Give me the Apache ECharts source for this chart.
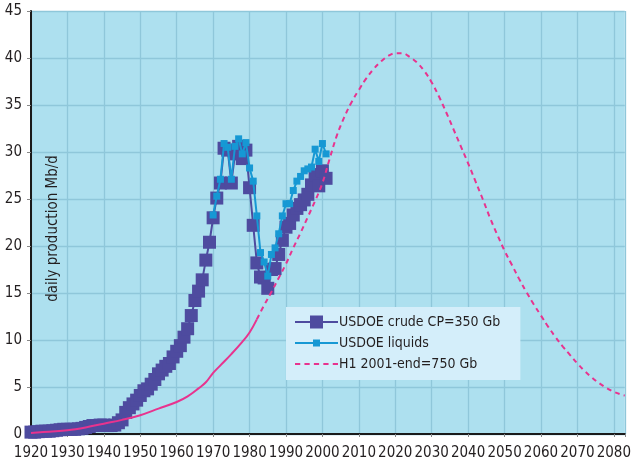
<!DOCTYPE html>
<html>
<head>
<meta charset="utf-8">
<script src="https://cdn.jsdelivr.net/npm/echarts@6/dist/echarts.min.js"></script>
<style>
html,body{margin:0;padding:0;background:#fff;}
#c{width:634px;height:465px;}
</style>
</head>
<body>
<div id="c"></div>
<script>
// ---- data ----
const crudeYears = [
 1920,1921,1922,1923,1924,1925,1926,1927,1928,1929,
 1930,1931,1932,1933,1934,1935,1936,1937,1938,1939,
 1940,1941,1942,1943,1944,1945,1946,1947,1948,1949,
 1950,1951,1952,1953,1954,1955,1956,1957,1958,1959,
 1960,1961,1962,1963,1964,1965,1966,1967,1968,1969,
 1970,1971,1972,1973,1974,1975,1976,1977,1978,1979,
 1980,1981,1982,1983,1984,1985,1986,1987,1988,1989,
 1990,1991,1992,1993,1994,1995,1996,1997,1998,1999,
 2000,2001];
const crudeValues = [
 0.2,0.2,0.25,0.3,0.3,0.3,0.35,0.4,0.45,0.5,
 0.5,0.5,0.5,0.55,0.6,0.7,0.8,0.9,0.9,0.95,
 0.95,0.9,0.9,0.95,1.2,1.5,2.3,2.8,3.2,3.6,
 4.1,4.6,4.8,5.3,5.8,6.4,6.8,7.2,7.5,8.2,
 8.8,9.4,10.3,11.2,12.6,14.2,15.2,16.4,18.5,20.4,
 23.0,25.1,26.7,30.4,30.2,26.7,29.8,30.6,29.3,30.2,
 26.2,22.2,18.2,16.7,16.6,15.5,17.5,17.6,19.1,20.6,
 22.0,22.4,23.3,24.0,24.4,24.9,25.5,26.5,27.6,26.4,
 28.0,27.2];
const liquidsYears = [
 1970,1971,1972,1973,1974,1975,1976,1977,1978,1979,
 1980,1981,1982,1983,1984,1985,1986,1987,1988,1989,
 1990,1991,1992,1993,1994,1995,1996,1997,1998,1999,
 2000,2001];
const liquidsValues = [
 23.3,25.3,27.1,30.9,30.5,27.1,30.6,31.4,29.8,31.0,
 28.3,26.9,23.2,19.3,18.3,16.8,19.1,19.8,21.3,23.2,
 24.5,24.5,25.9,26.9,27.4,28.0,28.2,28.4,30.3,29.0,
 30.9,29.8];
const h1PastYears = [1920,1925,1930,1935,1940,1945,1950,1955,1960,1963,1966,1968,1970,1972,1975,1978,1980,1982];
const h1PastValues = [0.1,0.25,0.4,0.7,1.1,1.5,2.0,2.7,3.4,4.0,4.85,5.5,6.5,7.3,8.5,9.8,10.8,12.2];
const h1FutureYears = [
 1982,1984,1986,1988,1990,1992,1994,1996,1998,2000,
 2002,2004,2006,2008,2010,2012,2014,2016,2018,2020,
 2022,2024,2026,2028,2030,2032,2034,2036,2038,2040,
 2042,2044,2046,2048,2050,2052,2054,2056,2058,2060,
 2062,2064,2066,2068,2070,2072,2074,2076,2078,2080,
 2082,2083];
const h1FutureValues = [
 12.2,13.7,15.1,16.6,18.1,19.8,21.4,23.1,24.8,26.7,
 29.3,31.8,33.7,35.3,36.6,37.8,38.8,39.6,40.2,40.5,
 40.5,40.1,39.5,38.6,37.4,35.9,34.2,32.4,30.6,28.8,
 26.9,25.0,23.0,21.2,19.5,18.0,16.5,15.1,13.8,12.6,
 11.4,10.3,9.3,8.4,7.5,6.7,6.0,5.4,4.9,4.5,
 4.2,4.1];
const xTicks = [1920,1930,1940,1950,1960,1970,1980,1990,2000,2010,2020,2030,2040,2050,2060,2070,2080];
const yTicks = [0,5,10,15,20,25,30,35,40,45];
const legendNames = ['USDOE crude CP=350 Gb', 'USDOE liquids', 'H1 2001-end=750 Gb'];

const pairs = (xs, ys) => xs.map((x, i) => [x, ys[i]]);
const FONT = "'Liberation Sans Narrow','DejaVu Sans Condensed','Roboto Condensed',sans-serif";

// legend glyphs: line + big square, line + small square, dashed line
const ICON_CRUDE = 'path://M0,6H15V0.5H28V6H43V8H28V13.5H15V8H0Z';
const ICON_LIQ = 'path://M0,6H18V3.5H25V6H43V8H25V10.5H18V8H0Z';
const ICON_H1 = 'path://M0,6H5V8H0Z M9,6H14V8H9Z M18,6H23V8H18Z M27,6H32V8H27Z M36,6H41V8H36Z';

const chart = echarts.init(document.getElementById('c'), null, {renderer: 'canvas'});
chart.setOption({
  animation: false,
  backgroundColor: '#ffffff',
  textStyle: {fontFamily: FONT},
  grid: {left: 31, top: 11, right: 2, bottom: 31, show: true, backgroundColor: '#ade0ef', borderWidth: 0},
  xAxis: {
    type: 'value', min: 1920, max: 2083, interval: 10,
    axisLine: {show: true, onZero: false, lineStyle: {color: '#1a1a1a', width: 2}},
    axisTick: {show: true, length: 3, lineStyle: {color: '#888'}},
    axisLabel: {
      margin: 12, fontSize: 15, color: '#231f20', fontFamily: FONT,
      formatter: v => xTicks.indexOf(v) >= 0 ? String(v) : ''
    },
    splitLine: {show: true, lineStyle: {color: '#8fc7da', width: 1.3}}
  },
  yAxis: {
    type: 'value', min: 0, max: 45, interval: 5,
    name: 'daily production Mb/d', nameLocation: 'middle', nameGap: -20, nameRotate: 90,
    nameTextStyle: {fontSize: 15, color: '#231f20', fontFamily: FONT, padding: [0, 12, -10, 0]},
    axisLine: {show: true, lineStyle: {color: '#1a1a1a', width: 2}},
    axisTick: {show: true, length: 4, lineStyle: {color: '#888'}},
    axisLabel: {
      margin: 9, fontSize: 15, color: '#231f20', fontFamily: FONT,
      formatter: v => yTicks.indexOf(v) >= 0 ? String(v) : ''
    },
    splitLine: {show: true, lineStyle: {color: '#8fc7da', width: 1.3}}
  },
  legend: {
    orient: 'vertical', left: 286, top: 307,
    data: [
      {name: legendNames[0], icon: ICON_CRUDE},
      {name: legendNames[1], icon: ICON_LIQ},
      {name: legendNames[2], icon: ICON_H1}
    ],
    backgroundColor: '#d4eefa',
    padding: [8, 20, 9, 9],
    itemGap: 7, itemWidth: 43, itemHeight: 14,
    textStyle: {fontSize: 14, color: '#231f20', fontFamily: FONT, padding: [0, 0, 0, -4]}
  },
  series: [
    {
      name: legendNames[0], type: 'line',
      data: pairs(crudeYears, crudeValues),
      symbol: 'rect', symbolSize: 13, showAllSymbol: true,
      lineStyle: {color: '#4e4b9f', width: 2},
      itemStyle: {color: '#4e4b9f'},
      z: 2
    },
    {
      name: legendNames[1], type: 'line',
      data: pairs(liquidsYears, liquidsValues),
      symbol: 'rect', symbolSize: 7, showAllSymbol: true,
      lineStyle: {color: '#1698d4', width: 2},
      itemStyle: {color: '#1698d4'},
      z: 3
    },
    {
      name: 'H1 past', type: 'line',
      data: pairs(h1PastYears, h1PastValues),
      smooth: 0.4, symbol: 'none',
      lineStyle: {color: '#e8338e', width: 2},
      itemStyle: {color: '#e8338e'},
      z: 4
    },
    {
      name: legendNames[2], type: 'line',
      data: pairs(h1FutureYears, h1FutureValues),
      smooth: 0.4, symbol: 'none',
      lineStyle: {color: '#e8338e', width: 2, type: [5, 4]},
      itemStyle: {color: '#e8338e'},
      z: 4
    }
  ]
});
</script>
</body>
</html>
